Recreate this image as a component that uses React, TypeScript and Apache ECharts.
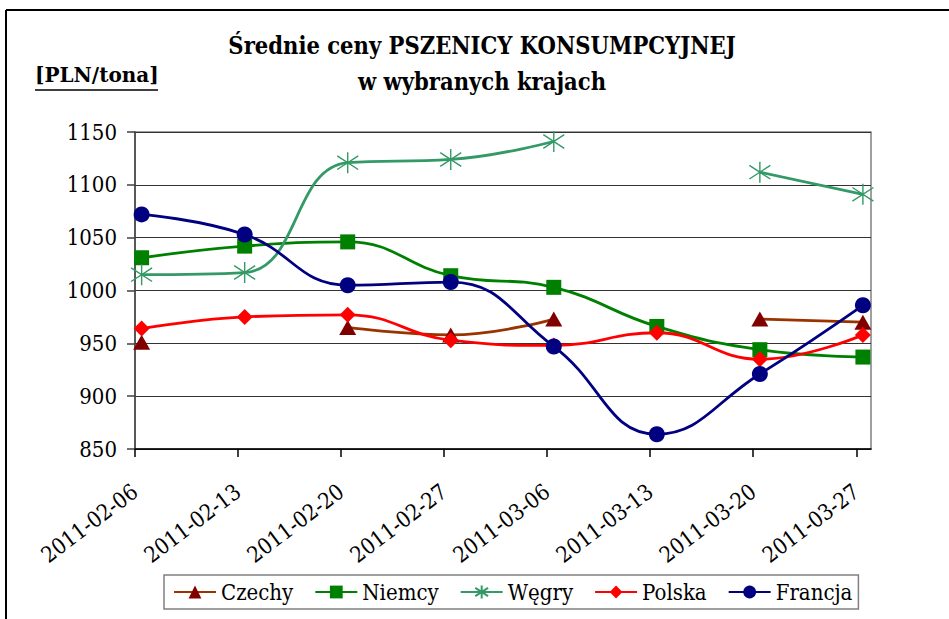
import React, { useEffect, useRef } from "react";
import * as echarts from "echarts";

// Tick labels on the date axis (weekly, starting 2011-02-06 = day 0)
const weekLabels = [
  "2011-02-06",
  "2011-02-13",
  "2011-02-20",
  "2011-02-27",
  "2011-03-06",
  "2011-03-13",
  "2011-03-20",
  "2011-03-27",
];
// Observation moment of each weekly quotation, in days after 2011-02-06
const obsDays = [0.45, 7.45, 14.45, 21.45, 28.45, 35.45, 42.45, 49.45];

const czechy = [951, null, 965, 958, 973, null, 973, 970];
const niemcy = [1031, 1042, 1046, 1014, 1003, 966, 944, 937];
const wegry = [1015, 1017, 1121, 1124, 1141, null, 1112, 1091];
const polska = [964, 975, 977, 953, 948, 960, 935, 958];
const francja = [1072, 1053, 1005, 1008, 947, 864, 921, 986];

const seriesNames = ["Czechy", "Niemcy", "Węgry", "Polska", "Francja"];

const SERIF = "DejaVu Serif Condensed";
const SERIF2 = "DejaVu Serif";

const ASTERISK = "path://M10 0 L10 20 M1 3.5 L19 16.5 M1 16.5 L19 3.5";

function toPairs(vals: (number | null)[]) {
  return vals.map((v, i) => [obsDays[i], v === null ? "-" : v]);
}

export default function App() {
  const ref = useRef<HTMLDivElement>(null);

  useEffect(() => {
    if (!ref.current) return;
    const chart = echarts.init(ref.current, undefined, { renderer: "svg" });

    const tickDays = weekLabels.map((_, i) => i * 7);

    const mk = (
      name: string,
      vals: (number | null)[],
      lineColor: string,
      markColor: string,
      symbol: string,
      size: number | number[],
      extraItem: any = {}
    ) => ({
      name,
      type: "line",
      data: toPairs(vals),
      smooth: 0.45,
      connectNulls: false,
      symbol,
      symbolSize: size,
      showAllSymbol: true,
      lineStyle: { color: lineColor, width: 2.8 },
      itemStyle: { color: markColor, ...extraItem },
      emphasis: { disabled: true },
    });

    chart.setOption({
      animation: false,
      backgroundColor: "#ffffff",
      textStyle: { fontFamily: SERIF },
      graphic: [
        {
          type: "line",
          shape: { x1: 6, y1: 10, x2: 949, y2: 10 },
          style: { stroke: "#000", lineWidth: 2 },
        },
        {
          type: "line",
          shape: { x1: 6, y1: 10, x2: 6, y2: 619 },
          style: { stroke: "#000", lineWidth: 2 },
        },
        {
          type: "text",
          x: 482,
          y: 46,
          style: {
            text: "Średnie ceny PSZENICY KONSUMPCYJNEJ",
            fontFamily: SERIF,
            fontWeight: "bold",
            fontSize: 23.5,
            fill: "#000",
            textAlign: "center",
            textVerticalAlign: "middle",
          },
        },
        {
          type: "text",
          x: 482,
          y: 82,
          style: {
            text: "w wybranych krajach",
            fontFamily: SERIF,
            fontWeight: "bold",
            fontSize: 23.5,
            fill: "#000",
            textAlign: "center",
            textVerticalAlign: "middle",
          },
        },
        {
          type: "text",
          x: 35,
          y: 75,
          style: {
            text: "[PLN/tona]",
            fontFamily: SERIF2,
            fontWeight: "bold",
            fontSize: 20,
            fill: "#000",
            textAlign: "left",
            textVerticalAlign: "middle",
          },
        },
        {
          type: "line",
          shape: { x1: 35, y1: 90, x2: 158, y2: 90 },
          style: { stroke: "#000", lineWidth: 1.5 },
        },
      ],
      grid: {
        left: 135,
        top: 132,
        right: 78,
        bottom: 170,
        show: true,
        borderColor: "#808080",
        borderWidth: 1.5,
        containLabel: false,
      },
      legend: {
        data: seriesNames,
        left: 164,
        top: 575,
        orient: "horizontal",
        borderColor: "#808080",
        borderWidth: 1.5,
        padding: [6, 6, 6, 9],
        itemWidth: 42,
        itemHeight: 16,
        itemGap: 21,
        textStyle: { fontFamily: SERIF, fontSize: 22, color: "#000" },
        selectedMode: false,
      },
      xAxis: {
        type: "value",
        min: 0,
        max: 50,
        interval: 7,
        axisLine: { show: true, lineStyle: { color: "#000", width: 1.5 } },
        axisTick: {
          show: true,
          length: 8,
          inside: false,
          customValues: tickDays,
          lineStyle: { color: "#000", width: 1.5 },
        },
        splitLine: { show: false },
        axisLabel: {
          customValues: tickDays,
          formatter: (v: number) => weekLabels[Math.round(v / 7)] ?? "",
          rotate: 37,
          margin: 40,
          fontFamily: SERIF,
          fontSize: 22,
          color: "#000",
        },
      },
      yAxis: {
        type: "value",
        min: 850,
        max: 1150,
        interval: 50,
        axisLine: { show: true, lineStyle: { color: "#404040", width: 1.5 } },
        axisTick: { show: true, length: 8, inside: false, lineStyle: { color: "#404040", width: 1.5 } },
        splitLine: { show: true, lineStyle: { color: "#333", width: 1.2 } },
        axisLabel: {
          margin: 18,
          formatter: (v: number) => String(v),
          fontFamily: SERIF,
          fontSize: 22,
          color: "#000",
        },
      },
      series: [
        mk("Czechy", czechy, "#993300", "#800000", "triangle", [17, 15]),
        mk("Niemcy", niemcy, "#008000", "#008000", "rect", 15),
        mk("Węgry", wegry, "#339966", "#339966", ASTERISK, 21, {
          borderColor: "#339966",
          borderWidth: 1.4,
        }),
        mk("Polska", polska, "#ff0000", "#ff0000", "diamond", 16),
        mk("Francja", francja, "#000080", "#000080", "circle", 16),
      ],
    });

    return () => chart.dispose();
  }, []);

  return <div ref={ref} style={{ width: 949, height: 619, position: "absolute", left: 0, top: 0 }} />;
}
